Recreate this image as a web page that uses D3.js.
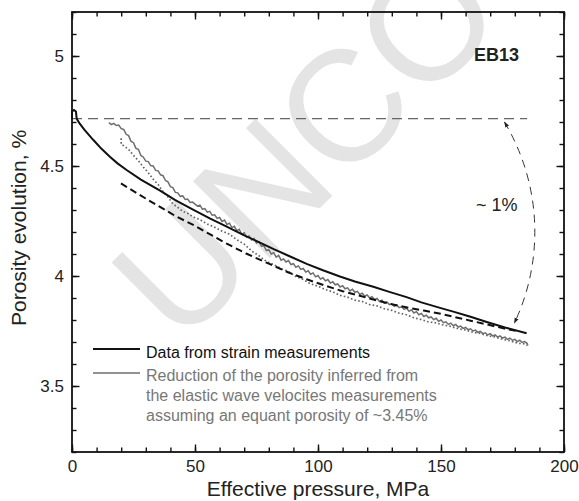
<!DOCTYPE html>
<html>
<head>
<meta charset="utf-8">
<script src="https://cdn.jsdelivr.net/npm/d3@7"></script>
<style>
  body { margin: 0; background: #fff; }
  svg { display: block; }
  text { font-family: "Liberation Sans", Arial, sans-serif; }
</style>
</head>
<body>
<svg id="chart"></svg>
<script>
// ******************** Data **********************************************
// porosity from strain measurements (solid black)
var strainData = [
    [0, 4.712], [0, 4.748], [0.8, 4.755], [1.6, 4.748], [1.9, 4.715], [3, 4.695], [5, 4.665],
    [8.7, 4.618], [12, 4.578], [15.4, 4.542], [18.5, 4.512], [22.2, 4.482], [28, 4.438],
    [35.8, 4.388], [42, 4.345], [49.2, 4.302], [56, 4.262], [62.9, 4.224], [70, 4.185],
    [76.4, 4.152], [82, 4.122], [88, 4.092], [95.4, 4.055], [102, 4.026], [108.9, 3.998],
    [115, 3.975], [122.5, 3.951], [129, 3.928], [136, 3.904], [142, 3.880], [149.6, 3.855],
    [155, 3.838], [162, 3.815], [168.6, 3.791], [176, 3.766], [184.8, 3.740]
];

// elastic-wave inferred porosity, first estimate (dashed black)
var waveDashed = [
    [19.9, 4.421], [25, 4.386], [30, 4.352], [35.8, 4.314], [42, 4.273], [49.3, 4.232],
    [56, 4.190], [62.9, 4.147], [71, 4.101], [80, 4.056], [88, 4.016], [95.4, 3.985],
    [103, 3.956], [110, 3.931], [117, 3.910], [122.5, 3.893], [130, 3.872], [137, 3.855],
    [143, 3.843], [150, 3.828], [155, 3.815], [162, 3.797], [168.6, 3.780], [175, 3.763],
    [182, 3.747]
];

// elastic-wave inferred porosity, equant porosity ~3.45% (solid grey, noisy)
var waveGrey = [
    [15, 4.697], [16, 4.688], [17, 4.694], [18, 4.684], [19, 4.686], [20, 4.670], [21, 4.666],
    [22, 4.644], [23, 4.638], [24, 4.612], [25, 4.606], [26, 4.580], [27, 4.576], [28, 4.548],
    [29, 4.540], [30, 4.522], [31, 4.520], [32, 4.502], [33, 4.500], [34, 4.480], [35, 4.478],
    [36, 4.460], [37, 4.456], [38, 4.434], [39, 4.428], [40, 4.406], [41, 4.402], [42, 4.380],
    [43, 4.378], [44, 4.362], [45, 4.364], [46, 4.348], [47, 4.350], [48, 4.334], [49, 4.336],
    [51, 4.318], [52, 4.322], [53, 4.304], [54, 4.306], [55, 4.290], [56, 4.294], [57, 4.276],
    [58, 4.278], [59, 4.262], [60, 4.266], [61, 4.248], [62, 4.254], [63, 4.234], [64, 4.240],
    [65, 4.220], [66, 4.226], [67, 4.206], [68, 4.212], [69, 4.190], [70, 4.196], [71, 4.176],
    [72, 4.182], [73, 4.164], [74, 4.170], [75, 4.150], [76, 4.156], [77, 4.136], [78, 4.138],
    [79, 4.116], [80, 4.120], [81, 4.100], [82, 4.106], [83, 4.086], [84, 4.094], [85, 4.072],
    [86, 4.078], [87, 4.064], [88, 4.070], [89, 4.052], [90, 4.056], [91, 4.040], [92, 4.046],
    [93, 4.030], [94, 4.034], [95, 4.018], [96, 4.024], [97, 4.008], [98, 4.014], [99, 3.996],
    [100, 4.002], [101, 3.986], [102, 3.992], [103, 3.978], [104, 3.984], [105, 3.968],
    [106, 3.974], [107, 3.960], [108, 3.964], [109, 3.950], [110, 3.956], [111, 3.942],
    [112, 3.946], [113, 3.932], [114, 3.940], [115, 3.926], [116, 3.930], [117, 3.916],
    [118, 3.922], [119, 3.908], [120, 3.914], [121, 3.900], [122, 3.906], [123, 3.892],
    [124, 3.898], [125, 3.884], [126, 3.890], [127, 3.876], [128, 3.882], [129, 3.870],
    [130, 3.874], [131, 3.862], [132, 3.868], [133, 3.856], [134, 3.860], [135, 3.848],
    [136, 3.854], [137, 3.840], [138, 3.846], [139, 3.832], [140, 3.838], [141, 3.824],
    [142, 3.830], [143, 3.816], [144, 3.822], [145, 3.810], [146, 3.814], [147, 3.802],
    [148, 3.808], [149, 3.794], [150, 3.800], [151, 3.788], [152, 3.792], [153, 3.780],
    [154, 3.786], [155, 3.774], [156, 3.780], [157, 3.768], [158, 3.772], [159, 3.762],
    [160, 3.766], [161, 3.756], [162, 3.760], [163, 3.750], [164, 3.754], [165, 3.744],
    [166, 3.748], [167, 3.738], [168, 3.742], [169, 3.732], [170, 3.738], [171, 3.728],
    [172, 3.732], [173, 3.722], [174, 3.728], [175, 3.718], [176, 3.722], [177, 3.712],
    [178, 3.718], [179, 3.708], [180, 3.712], [181, 3.702], [182, 3.708], [183, 3.698],
    [184, 3.702], [185, 3.694], [185.3, 3.684]
];

// elastic-wave inferred porosity, alternative (dotted grey)
var waveDotted = [
    [20, 4.626], [20, 4.598], [21, 4.592], [23, 4.576], [25, 4.548], [27, 4.524], [29, 4.495],
    [31, 4.470], [33, 4.440], [35, 4.416], [37, 4.384], [39, 4.360], [41, 4.328], [43, 4.312],
    [45, 4.294], [47, 4.285], [49, 4.270], [52, 4.256], [55, 4.236], [58, 4.222], [61, 4.204],
    [64, 4.190], [67, 4.165], [70, 4.145], [73, 4.114], [76, 4.092], [79, 4.066], [82, 4.052],
    [85, 4.033], [88, 4.020], [91, 3.998], [94, 3.984], [97, 3.964], [100, 3.954], [103, 3.938],
    [106, 3.928], [109, 3.912], [112, 3.904], [115, 3.890], [118, 3.884], [121, 3.870],
    [124, 3.864], [127, 3.851], [130, 3.844], [133, 3.831], [136, 3.824], [139, 3.810],
    [142, 3.802], [145, 3.791], [148, 3.787], [151, 3.777], [154, 3.771], [157, 3.760],
    [160, 3.755], [163, 3.744], [166, 3.739], [169, 3.728], [172, 3.723], [175, 3.712],
    [178, 3.706], [181, 3.695], [184, 3.691], [185, 3.684]
];

// initial porosity reference and the "~1%" arrow (start and end, in data units)
var refPorosity = 4.715;
var refRange = [0, 185];
var arcEnds = [[175.8, 4.70], [179.8, 3.785]];

var xMajor = [0, 50, 100, 150, 200];
var xMinor = d3.range(0, 201, 10);
var yMajor = [3.5, 4, 4.5, 5];
var yMinor = d3.range(3.2, 5.21, 0.1);

var legendLabels = ["Data from strain measurements",
    ["Reduction of the porosity inferred from",
     "the elastic wave velocites measurements",
     "assuming an equant porosity of ~3.45%"]];

// ******************** Layout ************************
var W = 579, H = 501;
var margin = {top: 12, right: 15, bottom: 49, left: 72};

var x = d3.scaleLinear().domain([0, 200]).range([margin.left, W - margin.right]);
var y = d3.scaleLinear().domain([3.2, 5.2]).range([H - margin.bottom, margin.top]);

var svg = d3.select("#chart").attr("width", W).attr("height", H);

// watermark of the proof (only its visible part)
svg.append("text")
    .attr("transform", "translate(180,348) rotate(-45)")
    .style("font-size", "158px")
    .style("fill", "#e4e4e4")
    .text("UNCO");

var defs = svg.append("defs");
defs.append("marker")
    .attr("id", "arrow")
    .attr("viewBox", "0 0 10 10")
    .attr("refX", 9).attr("refY", 5)
    .attr("markerWidth", 6).attr("markerHeight", 6)
    .attr("orient", "auto-start-reverse")
    .append("path")
    .attr("d", "M0,1.5 L10,5 L0,8.5 Z")
    .style("fill", "#222");

var line = d3.line()
    .x(function (d) { return x(d[0]); })
    .y(function (d) { return y(d[1]); });

// reference dashed line
svg.append("line")
    .attr("x1", x(refRange[0])).attr("x2", x(refRange[1]))
    .attr("y1", y(refPorosity)).attr("y2", y(refPorosity))
    .style("stroke", "#666").style("stroke-width", 1.2)
    .style("stroke-dasharray", "10,6");

svg.append("path").datum(waveDotted)
    .attr("d", line)
    .style("fill", "none").style("stroke", "#666")
    .style("stroke-width", 1.7).style("stroke-dasharray", "1.6,2.2");

svg.append("path").datum(waveGrey)
    .attr("d", line)
    .style("fill", "none").style("stroke", "#6e6e6e")
    .style("stroke-width", 1.5);

svg.append("path").datum(waveDashed)
    .attr("d", line)
    .style("fill", "none").style("stroke", "#111")
    .style("stroke-width", 2).style("stroke-dasharray", "7,4");

svg.append("path").datum(strainData)
    .attr("d", line)
    .style("fill", "none").style("stroke", "#111")
    .style("stroke-width", 2);

// ~1% arc with arrows on both ends (circular arc bulging to the right)
var a0 = [x(arcEnds[0][0]), y(arcEnds[0][1])];
var a1 = [x(arcEnds[1][0]), y(arcEnds[1][1])];
svg.append("path")
    .attr("d", "M" + a0[0] + "," + a0[1] + " A214,214 0 0 1 " + a1[0] + "," + a1[1])
    .style("fill", "none").style("stroke", "#333")
    .style("stroke-width", 1).style("stroke-dasharray", "8,6")
    .attr("marker-start", "url(#arrow)")
    .attr("marker-end", "url(#arrow)");

// ******************** Axes ************************
function styleAxis(g) {
    g.select(".domain").remove();
    g.selectAll(".tick line").style("stroke", "#111").style("stroke-width", 1.4);
    g.selectAll("text").style("font-size", "17px").style("fill", "#222");
}
var noLabel = function () { return ""; };

svg.append("g").attr("transform", "translate(0," + y.range()[0] + ")")
    .call(d3.axisBottom(x).tickValues(xMinor).tickSize(-4.5).tickFormat(noLabel)).call(styleAxis);
svg.append("g").attr("transform", "translate(0," + y.range()[0] + ")")
    .call(d3.axisBottom(x).tickValues(xMajor).tickSize(-7.5).tickPadding(8).tickFormat(d3.format("d")))
    .call(styleAxis);
svg.append("g").attr("transform", "translate(0," + y.range()[1] + ")")
    .call(d3.axisTop(x).tickValues(xMinor).tickSize(-4.5).tickFormat(noLabel)).call(styleAxis);
svg.append("g").attr("transform", "translate(0," + y.range()[1] + ")")
    .call(d3.axisTop(x).tickValues(xMajor).tickSize(-7.5).tickFormat(noLabel)).call(styleAxis);

svg.append("g").attr("transform", "translate(" + x.range()[0] + ",0)")
    .call(d3.axisLeft(y).tickValues(yMinor).tickSize(-4.5).tickFormat(noLabel)).call(styleAxis);
svg.append("g").attr("transform", "translate(" + x.range()[0] + ",0)")
    .call(d3.axisLeft(y).tickValues(yMajor).tickSize(-7.5).tickPadding(8).tickFormat(d3.format("")))
    .call(styleAxis);
svg.append("g").attr("transform", "translate(" + x.range()[1] + ",0)")
    .call(d3.axisRight(y).tickValues(yMinor).tickSize(-4.5).tickFormat(noLabel)).call(styleAxis);
svg.append("g").attr("transform", "translate(" + x.range()[1] + ",0)")
    .call(d3.axisRight(y).tickValues(yMajor).tickSize(-7.5).tickFormat(noLabel)).call(styleAxis);

// frame
svg.append("rect")
    .attr("x", x.range()[0]).attr("y", y.range()[1])
    .attr("width", x.range()[1] - x.range()[0])
    .attr("height", y.range()[0] - y.range()[1])
    .style("fill", "none").style("stroke", "#111").style("stroke-width", 1.8);

// axis titles
svg.append("text")
    .attr("x", (x.range()[0] + x.range()[1]) / 2).attr("y", 496)
    .attr("text-anchor", "middle")
    .style("font-size", "21px").style("fill", "#222")
    .text("Effective pressure, MPa");
svg.append("text")
    .attr("transform", "translate(26," + ((y.range()[0] + y.range()[1]) / 2 - 4) + ") rotate(-90)")
    .attr("text-anchor", "middle")
    .style("font-size", "21px").style("fill", "#222")
    .text("Porosity evolution, %");

// annotations
svg.append("text")
    .attr("x", 519).attr("y", 61)
    .attr("text-anchor", "end")
    .style("font-size", "18px").style("font-weight", "bold").style("fill", "#222")
    .text("EB13");
svg.append("text")
    .attr("x", 476).attr("y", 211)
    .style("font-size", "18px").style("fill", "#222")
    .text("~ 1%");

// ******************** Legend ************************
var legend = svg.append("g").attr("transform", "translate(93,349)");
legend.append("line").attr("x1", 0).attr("x2", 47)
    .style("stroke", "#111").style("stroke-width", 2);
legend.append("text").attr("x", 53).attr("y", 9)
    .style("font-size", "16px").style("fill", "#111")
    .text(legendLabels[0]);
legend.append("line").attr("x1", 0).attr("x2", 47).attr("y1", 24).attr("y2", 24)
    .style("stroke", "#6e6e6e").style("stroke-width", 1.6);
legend.append("text").attr("x", 53).attr("y", 32)
    .style("font-size", "16px").style("fill", "#777")
    .selectAll("tspan").data(legendLabels[1]).enter()
    .append("tspan")
    .attr("x", 53)
    .attr("dy", function (d, i) { return i === 0 ? 0 : 20; })
    .text(function (d) { return d; });
</script>
</body>
</html>
